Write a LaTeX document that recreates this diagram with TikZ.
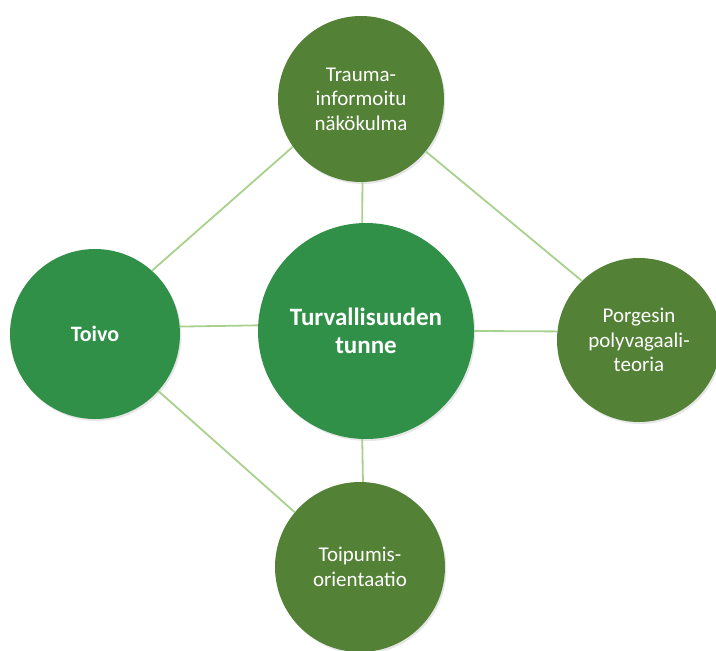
\documentclass[tikz,border=0pt]{standalone}
\usepackage{fontspec}
\setmainfont{Carlito}
\usetikzlibrary{shadows}
\definecolor{olivegreen}{HTML}{538135}
\definecolor{brightgreen}{HTML}{319048}
\definecolor{linegreen}{HTML}{A9D18E}
\tikzset{
  bubble/.style={circle, inner sep=0pt, text=white, align=center,
    drop shadow={opacity=0.2, shadow xshift=1.5pt, shadow yshift=-2pt}},
  outerbubble/.style={bubble, fill=olivegreen, minimum size=166pt,
    font=\fontsize{21}{24.5}\selectfont},
  keybubble/.style={bubble, fill=brightgreen},
  link/.style={draw=linegreen, line width=1.8pt}
}
\begin{document}
\begin{tikzpicture}[x=1pt,y=-1pt]
\useasboundingbox (0,0) rectangle (716,651);
\clip (0,0) rectangle (716,651);
\node[outerbubble] (top) at (361,99) {Trauma-\\informoitu\\näkökulma};
\node[keybubble, minimum size=170pt, font=\bfseries\fontsize{22}{26}\selectfont] (left) at (95,334) {Toivo};
\node[keybubble, minimum size=216pt, font=\bfseries\fontsize{25}{28}\selectfont] (center) at (366,331) {Turvallisuuden\\tunne};
\node[outerbubble, minimum size=164pt] (right) at (639,340) {Porgesin\\polyvagaali-\\teoria};
\node[outerbubble, minimum size=170pt] (bottom) at (360,567) {Toipumis-\\orientaatio};
\draw[link] (left.48) -- (top.215);
\draw[link] (top.321) -- (right.134);
\draw[link] (left.318) -- (bottom.140);
\draw[link] (left.5) -- (center.177);
\draw[link] (center.0) -- (right.174);
\draw[link] (top.271) -- (center.92);
\draw[link] (center.268) -- (bottom.88);
\end{tikzpicture}
\end{document}
